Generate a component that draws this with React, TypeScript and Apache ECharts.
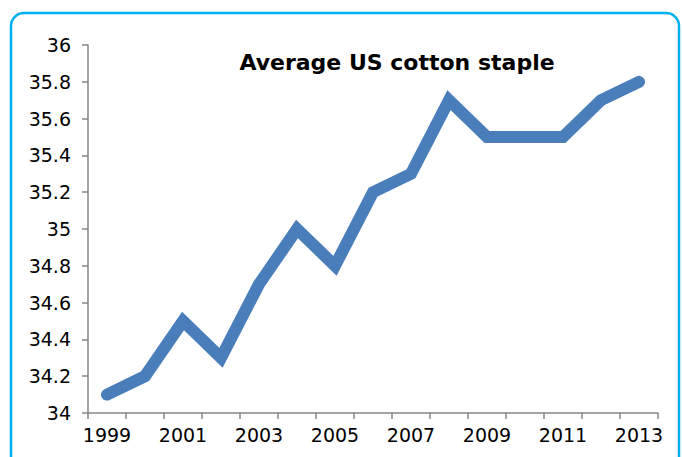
import React, { useEffect, useRef } from "react";
import * as echarts from "echarts";

const years = [
  "1999", "2000", "2001", "2002", "2003", "2004", "2005", "2006",
  "2007", "2008", "2009", "2010", "2011", "2012", "2013",
];
const stapleLength = [
  34.1, 34.2, 34.5, 34.3, 34.7, 35.0, 34.8, 35.2,
  35.3, 35.7, 35.5, 35.5, 35.5, 35.7, 35.8,
];
const chartTitle = "Average US cotton staple";

const labelFont = "'DejaVu Sans', sans-serif";

export default function App() {
  const ref = useRef<HTMLDivElement>(null);

  useEffect(() => {
    if (!ref.current) return;
    const chart = echarts.init(ref.current, null, { renderer: "svg" });
    chart.setOption({
      animation: false,
      backgroundColor: "#ffffff",
      title: {
        text: chartTitle,
        left: 392,
        top: 46,
        textAlign: "center",
        textStyle: {
          fontFamily: "'DejaVu Sans', sans-serif",
          fontWeight: "bold",
          fontSize: 22,
          color: "#000000",
        },
      },
      graphic: [
        {
          type: "rect",
          shape: { x: 11, y: 13, width: 668, height: 470, r: 13 },
          style: { fill: "none", stroke: "#00b0f0", lineWidth: 2.5 },
          silent: true,
        },
      ],
      grid: { left: 88, right: 24, top: 45, bottom: 44, containLabel: false },
      xAxis: {
        type: "category",
        data: years,
        boundaryGap: true,
        axisLine: { lineStyle: { color: "#868686", width: 1.5 } },
        axisTick: {
          show: true,
          length: 6,
          inside: false,
          interval: 0,
          lineStyle: { color: "#868686", width: 1.5 },
        },
        axisLabel: {
          interval: 1,
          margin: 12,
          fontSize: 19,
          fontFamily: labelFont,
          color: "#000000",
        },
      },
      yAxis: {
        type: "value",
        min: 34,
        max: 36,
        interval: 0.2,
        axisLine: { show: true, lineStyle: { color: "#868686", width: 1.5 } },
        axisTick: { show: true, length: 6, lineStyle: { color: "#868686", width: 1.5 } },
        splitLine: { show: false },
        axisLabel: {
          margin: 17,
          fontSize: 19,
          fontFamily: labelFont,
          color: "#000000",
          formatter: (v: number) => String(Math.round(v * 10) / 10),
        },
      },
      series: [
        {
          type: "line",
          data: stapleLength,
          symbol: "none",
          lineStyle: { color: "#4a7ebb", width: 12, cap: "round", join: "miter" },
        },
      ],
    });
    return () => chart.dispose();
  }, []);

  return (
    <div
      ref={ref}
      style={{ position: "fixed", left: 0, top: 0, width: 682, height: 457 }}
    />
  );
}
